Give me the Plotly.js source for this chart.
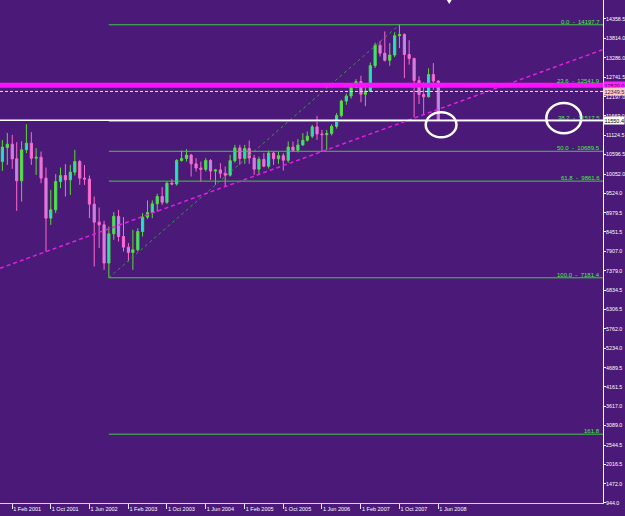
<!DOCTYPE html>
<html>
<head>
<meta charset="utf-8">
<script src="https://cdn.plot.ly/plotly-3.0.1.min.js"></script>
<style>
html,body{margin:0;padding:0;background:#4b1a78;}
#chart{width:625px;height:516px;}
</style>
</head>
<body>
<div id="chart"></div>
<script>
// Monthly bars (bar open date)
const dates = [
 '2000-12-01',
 '2001-01-01','2001-02-01','2001-03-01','2001-04-01','2001-05-01','2001-06-01','2001-07-01','2001-08-01','2001-09-01','2001-10-01','2001-11-01','2001-12-01',
 '2002-01-01','2002-02-01','2002-03-01','2002-04-01','2002-05-01','2002-06-01','2002-07-01','2002-08-01','2002-09-01','2002-10-01','2002-11-01','2002-12-01',
 '2003-01-01','2003-02-01','2003-03-01','2003-04-01','2003-05-01','2003-06-01','2003-07-01','2003-08-01','2003-09-01','2003-10-01','2003-11-01','2003-12-01',
 '2004-01-01','2004-02-01','2004-03-01','2004-04-01','2004-05-01','2004-06-01','2004-07-01','2004-08-01','2004-09-01','2004-10-01','2004-11-01','2004-12-01',
 '2005-01-01','2005-02-01','2005-03-01','2005-04-01','2005-05-01','2005-06-01','2005-07-01','2005-08-01','2005-09-01','2005-10-01','2005-11-01','2005-12-01',
 '2006-01-01','2006-02-01','2006-03-01','2006-04-01','2006-05-01','2006-06-01','2006-07-01','2006-08-01','2006-09-01','2006-10-01','2006-11-01','2006-12-01',
 '2007-01-01','2007-02-01','2007-03-01','2007-04-01','2007-05-01','2007-06-01','2007-07-01','2007-08-01','2007-09-01','2007-10-01','2007-11-01','2007-12-01',
 '2008-01-01','2008-02-01','2008-03-01','2008-04-01','2008-05-01','2008-06-01'
];
const openV = [
 10405,
 10793,10887,10480,9870,10729,10915,10499,10523,9945,8836,9066,9851,
 10017,9897,10111,10405,9945,9920,9224,8725,8650,7589,8401,8888,
 8326,8031,7882,7957,8464,8864,8994,9233,9435,9275,9806,9782,
 10433,10488,10584,10341,10226,10188,10435,10140,10174,10080,10027,10428,
 10783,10490,10766,10504,10193,10467,10275,10641,10482,10569,10440,10806,
 10718,10865,10993,11109,11367,11168,11150,11186,11381,11679,12081,12222,
 12463,12622,12269,12354,13063,13628,13409,13212,13358,13896,13930,13372,
 13265,12650,12266,12200,12820,12638
];
const highV = [
 11000,
 11200,11145,10943,10967,11441,11220,10776,10682,10238,9620,10056,10238,
 10333,10313,10729,10452,10313,10017,9435,9130,8761,8603,9006,9066,
 8864,8143,8512,8558,8974,9327,9327,9510,9695,9851,9917,10472,
 10710,10748,10618,10499,10405,10499,10472,10200,10360,10266,10590,10868,
 10868,10868,10987,10590,10540,10638,10710,10682,10682,10638,10960,10960,
 11025,11192,11239,11422,11672,11284,11284,11440,11750,12120,12290,12530,
 12690,12786,12530,13150,13700,13750,14013,13690,13990,14197.7,13960,13770,
 13280,12770,12600,12990,13136,12660
];
const lowV = [
 10147,
 10313,10202,9038,9296,10638,10313,10036,9806,7910,8650,8974,9667,
 9435,9482,10017,9759,9759,8836,7494,8004,7403,7181.4,8234,8187,
 7910,7633,7403,7910,8327,8810,8836,9019,9204,9232,9746,9740,
 10405,10405,9989,10128,9851,10128,9897,9759,9945,9712,9989,10377,
 10313,10340,10341,10036,10036,10250,10210,10313,10341,10155,10377,10682,
 10660,10840,10960,11054,11006,10682,10729,11130,11320,11630,11980,12150,
 12440,12050,11940,12330,13000,13320,13180,13060,13300,13550,12717,13090,
 11635,12000,11720,12180,12400,11530
];
const closeV = [
 10804,
 10887,10480,9870,10729,10915,10499,10523,9945,8836,9066,9851,10017,
 9897,10111,10405,9945,9920,9224,8725,8650,7589,8401,8888,8326,
 8031,7882,7957,8464,8864,8994,9233,9435,9275,9806,9782,10433,
 10488,10584,10341,10226,10188,10435,10140,10174,10080,10027,10428,10783,
 10490,10766,10504,10193,10467,10275,10641,10482,10569,10440,10806,10718,
 10865,10993,11109,11367,11168,11150,11186,11381,11679,12081,12222,12463,
 12622,12269,12354,13063,13628,13409,13212,13358,13896,13930,13372,13265,
 12650,12266,12200,12820,12638,11550.4
];

// Time-scale tick labels (bottom)
const xTickDates = ['2001-02-01','2001-10-01','2002-06-01','2003-02-01','2003-10-01','2004-06-01','2005-02-01','2005-10-01','2006-06-01','2007-02-01','2007-10-01','2008-06-01'];
const xTickText = ['1 Feb 2001','1 Oct 2001','1 Jun 2002','1 Feb 2003','1 Oct 2003','1 Jun 2004','1 Feb 2005','1 Oct 2005','1 Jun 2006','1 Feb 2007','1 Oct 2007','1 Jun 2008'];

// Price-scale tick labels (right side)
const yTicks = [14358.5,13814.0,13286.0,12741.5,12197.0,11669.0,11124.5,10596.5,10052.0,9524.0,8979.5,8451.5,7907.0,7379.0,6834.5,6306.5,5762.0,5234.0,4689.5,4161.5,3617.0,3089.0,2544.5,2016.5,1472.0,944.0];

// Fibonacci retracement (anchored Oct 2002 low -> Oct 2007 high)
const fibStart = ['2002-10-01', 7181.4];
const fibEnd = ['2007-10-01', 14197.7];
const fibLevels = ['0.0','23.6','38.2','50.0','61.8','100.0','161.8'];
const fibValues = [14197.7,12541.9,11517.5,10689.5,9861.6,7181.4,2845.3];
const fibShowValue = [true,true,true,true,true,true,false];

// Trend line (magenta dashed) endpoints
const trendDates = ['2000-11-16','2011-04-02'];
const trendValues = [7445,13510];

// Horizontal price lines
const magentaLevel = 12520.0;
const dashedLevel = 12349.5;
const bidLevel = 11550.4;

const xRange = ['2000-11-16','2011-04-02'];
const yRange = [936, 14885];

const FONT = 'Liberation Sans, Arial, sans-serif';
const NB = '\u00a0';

const trace = {
  type: 'candlestick',
  x: dates, open: openV, high: highV, low: lowV, close: closeV,
  increasing: {line: {color: '#55dd33', width: 1}, fillcolor: '#1fe3cf'},
  decreasing: {line: {color: '#ff66cc', width: 1}, fillcolor: '#b48ee8'},
  whiskerwidth: 0,
  showlegend: false,
  hoverinfo: 'skip'
};

const shapes = [];
shapes.push({type:'line', xref:'x', yref:'y', x0: fibStart[0], y0: fibStart[1], x1: fibEnd[0], y1: fibEnd[1],
  line:{color:'#2f9a3a', width:1, dash:'dot'}});
fibValues.forEach(v => {
  shapes.push({type:'line', xref:'x', yref:'y', x0: fibStart[0], x1: xRange[1], y0: v, y1: v,
    line:{color:'#3ccc3c', width:1}});
});
shapes.push({type:'line', xref:'x', yref:'y', x0: trendDates[0], y0: trendValues[0], x1: trendDates[1], y1: trendValues[1],
  line:{color:'#e020e0', width:1.5, dash:'4px,3px'}});
shapes.push({type:'line', xref:'paper', yref:'y', x0:0, x1:1, y0: magentaLevel, y1: magentaLevel,
  line:{color:'#ff10ff', width:5}});
shapes.push({type:'line', xref:'paper', yref:'y', x0:0, x1:1, y0: dashedLevel, y1: dashedLevel,
  line:{color:'#ffe0f0', width:1, dash:'3px,2px'}});
shapes.push({type:'line', xref:'paper', yref:'y', x0:0, x1:1, y0: bidLevel, y1: bidLevel,
  line:{color:'#ffffff', width:1.5}});
shapes.push({type:'circle', xref:'paper', yref:'paper', x0: 0.706, x1: 0.757, y0: 0.727, y1: 0.777,
  line:{color:'#ffffff', width:2.5}});
shapes.push({type:'circle', xref:'paper', yref:'paper', x0: 0.906, x1: 0.964, y0: 0.735, y1: 0.795,
  line:{color:'#ffffff', width:2.5}});
shapes.push({type:'path', xref:'paper', yref:'paper', path:'M 0.741 1 L 0.749 1 L 0.745 0.992 Z',
  fillcolor:'#ffffff', line:{color:'#ffffff', width:0}});

const annotations = [];
fibValues.forEach((v, i) => {
  const txt = fibShowValue[i] ? (fibLevels[i] + NB + NB + '-' + NB + NB + v.toFixed(1)) : fibLevels[i];
  annotations.push({xref:'paper', yref:'y', x: 0.997, y: v, xanchor:'right', yanchor:'bottom',
    text: txt, showarrow:false, font:{family: FONT, size:6, color:'#40f040'}, borderpad:0, yshift:-1});
});
const tagDefs = [
  {v: magentaLevel, bg:'#ff20ff', fg:'#40104a'},
  {v: dashedLevel, bg:'#ffc8c8', fg:'#402040'},
  {v: bidLevel, bg:'#ffffff', fg:'#000000'}
];
tagDefs.forEach(t => {
  annotations.push({xref:'paper', yref:'y', x: 1.0, y: t.v, xanchor:'left', yanchor:'middle',
    text: t.v.toFixed(1), showarrow:false, bgcolor: t.bg, borderpad:0.5,
    font:{family: FONT, size:5.5, color: t.fg}});
});

const layout = {
  width: 625, height: 516,
  margin: {l:0, r:22, t:0, b:13, pad:0},
  paper_bgcolor: '#4b1a78',
  plot_bgcolor: '#4b1a78',
  showlegend: false,
  dragmode: false,
  xaxis: {
    type:'date', range: xRange, rangeslider:{visible:false},
    showgrid:false, zeroline:false,
    showline:true, linecolor:'#d8d0f0', linewidth:1,
    ticks:'outside', ticklen:5, tickcolor:'#e8e8ff', tickwidth:1,
    tickmode:'array', tickvals: xTickDates, ticktext: xTickText,
    tickangle:0,
    ticklabelposition:'outside right',
    tickfont:{family: FONT, size:5.5, color:'#ffffff'},
    fixedrange:true
  },
  yaxis: {
    side:'right', range: yRange,
    showgrid:false, zeroline:false,
    showline:true, linecolor:'#ffffff', linewidth:1,
    ticks:'outside', ticklen:2, tickcolor:'#ffffff',
    ticklabelstandoff: -1,
    tickvals: yTicks, ticktext: yTicks.map(v => v.toFixed(1)),
    tickfont:{family: FONT, size:5.3, color:'#ffffff'},
    fixedrange:true
  },
  shapes: shapes,
  annotations: annotations
};

Plotly.newPlot('chart', [trace], layout, {displayModeBar:false, staticPlot:true});
</script>
</body>
</html>
